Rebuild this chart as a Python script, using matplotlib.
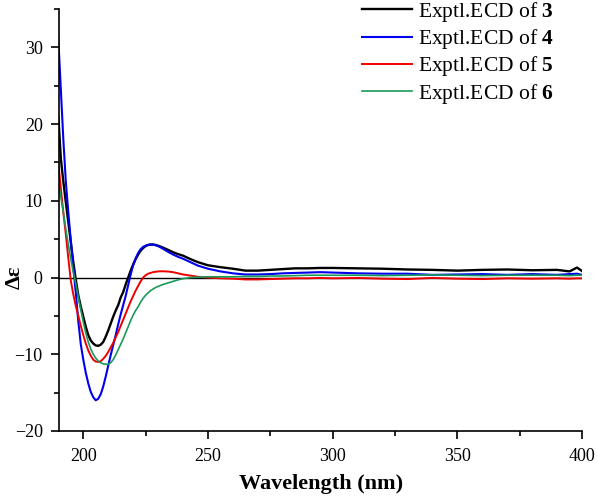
import matplotlib
matplotlib.use("Agg")
import matplotlib.pyplot as plt
from matplotlib.ticker import MultipleLocator

plt.rcParams['font.family'] = ['Liberation Serif', 'DejaVu Serif']
plt.rcParams['mathtext.fontset'] = 'custom'
plt.rcParams['mathtext.rm'] = 'Liberation Serif'
plt.rcParams['mathtext.bf'] = 'Liberation Serif:bold'

wavelength = [190, 191, 192, 193, 194, 195, 196, 197, 198, 199,
              200, 201, 202, 203, 204, 205, 206, 207, 208, 209,
              210, 211, 212, 213, 214, 215, 216, 217, 218, 219,
              220, 221, 222, 223, 224, 225, 226, 227, 228, 229,
              230, 232, 234, 236, 238, 240, 243, 246, 250, 255,
              260, 265, 270, 275, 280, 285, 290, 295, 300, 310,
              320, 330, 340, 350, 360, 370, 380, 390, 395, 398, 400]

ecd_3 = [21.0, 15.5, 12.5, 9.8, 7.2, 4.6, 2.0, -0.3, -2.3, -3.8,
         -5.1, -6.4, -7.5, -8.2, -8.6, -8.85, -8.9, -8.75, -8.4, -7.7,
         -6.9, -6.0, -5.1, -4.3, -3.6, -2.6, -1.9, -0.9, 0.0, 0.9,
         1.7, 2.4, 3.0, 3.5, 3.85, 4.1, 4.25, 4.3, 4.3, 4.25,
         4.15, 3.9, 3.6, 3.3, 3.05, 2.85, 2.4, 2.0, 1.6, 1.35,
         1.15, 0.9, 0.9, 1.0, 1.1, 1.2, 1.2, 1.25, 1.25, 1.2,
         1.15, 1.05, 1.0, 0.9, 1.0, 1.05, 0.95, 1.0, 0.8, 1.3, 0.85]

ecd_4 = [31.0, 24.5, 18.0, 12.5, 8.5, 4.8, 1.3, -2.0, -5.7, -8.7,
         -10.7, -12.4, -13.8, -14.9, -15.6, -16.0, -15.8, -15.2, -14.2, -12.9,
         -11.5, -10.1, -8.8, -7.5, -6.1, -4.8, -3.6, -2.4, -1.0, 0.4,
         1.6, 2.5, 3.2, 3.7, 4.0, 4.15, 4.25, 4.3, 4.3, 4.2,
         4.1, 3.75, 3.35, 3.0, 2.7, 2.45, 2.0, 1.55, 1.15, 0.8,
         0.55, 0.4, 0.4, 0.45, 0.55, 0.6, 0.65, 0.7, 0.65, 0.55,
         0.5, 0.5, 0.35, 0.4, 0.45, 0.35, 0.45, 0.35, 0.45, 0.5, 0.35]

ecd_5 = [15.0, 11.6, 8.5, 5.6, 2.5, -0.4, -2.2, -3.7, -5.0, -6.3,
         -7.5, -8.6, -9.5, -10.2, -10.7, -10.95, -11.0, -10.9, -10.6, -10.2,
         -9.7, -9.1, -8.5, -7.8, -7.1, -6.3, -5.5, -4.7, -3.9, -3.1,
         -2.4, -1.7, -1.1, -0.5, 0.0, 0.3, 0.5, 0.6, 0.7, 0.75,
         0.8, 0.82, 0.78, 0.7, 0.55, 0.4, 0.25, 0.1, 0.0, -0.1,
         -0.15, -0.25, -0.25, -0.2, -0.15, -0.1, -0.1, -0.05, -0.1, -0.05,
         -0.15, -0.2, -0.05, -0.15, -0.2, -0.1, -0.15, -0.1, -0.15, -0.1, -0.1]

ecd_6 = [12.5, 10.5, 8.5, 6.3, 4.3, 2.4, 0.7, -0.8, -2.5, -4.2,
         -5.8, -7.2, -8.4, -9.3, -10.0, -10.5, -10.9, -11.1, -11.25, -11.3,
         -11.3, -11.1, -10.7, -10.1, -9.4, -8.7, -8.0, -7.2, -6.4, -5.6,
         -4.9, -4.3, -3.8, -3.2, -2.7, -2.3, -2.0, -1.7, -1.5, -1.3,
         -1.15, -0.9, -0.7, -0.5, -0.3, -0.15, 0.0, 0.05, 0.1, 0.1,
         0.1, 0.15, 0.15, 0.2, 0.2, 0.25, 0.3, 0.3, 0.3, 0.3,
         0.25, 0.3, 0.35, 0.3, 0.25, 0.3, 0.3, 0.3, 0.25, 0.3, 0.3]

compounds = ['3', '4', '5', '6']
series = [ecd_3, ecd_4, ecd_5, ecd_6]
colors = ['#000000', '#0000ee', '#ee0000', '#1a9a5a']
widths = [1.7, 1.5, 1.4, 1.2]

for s in series:
    assert len(s) == len(wavelength)

fig = plt.figure(figsize=(5.97, 4.97), dpi=100)
ax = fig.add_axes([0.0994, 0.1328, 0.8755, 0.8491])

ax.axhline(0, color='black', lw=1.0, zorder=1)
for name, s, c, w in zip(compounds, series, colors, widths):
    ax.plot(wavelength, s, color=c, lw=w, label=r'Exptl.ECD of $\mathbf{' + name + '}$', zorder=2)

ax.set_xlim(190.4, 400)
ax.set_ylim(-20, 35)
ax.xaxis.set_major_locator(MultipleLocator(50))
ax.xaxis.set_minor_locator(MultipleLocator(25))
ax.yaxis.set_major_locator(MultipleLocator(10))
ax.yaxis.set_minor_locator(MultipleLocator(5))
ax.set_yticks([-20, -10, 0, 10, 20, 30])

for sp in ['top', 'right']:
    ax.spines[sp].set_visible(False)
for sp in ['left', 'bottom']:
    ax.spines[sp].set_linewidth(1.2)

ax.tick_params(which='major', direction='out', length=6, width=1.2, labelsize=13, pad=6)
ax.tick_params(which='minor', direction='out', length=3.5, width=1.2)

ax.set_xlabel('Wavelength (nm)', fontsize=16, fontweight='bold', labelpad=7)
ax.set_ylabel('Δε', fontsize=16, fontweight='bold')
ax.yaxis.set_label_coords(-0.066, 0.365)

leg = fig.legend(loc='upper left', bbox_to_anchor=(362 / 597, 1.0), frameon=False,
                 fontsize=15.5, handlelength=2.3, handletextpad=0.3, labelspacing=0.15,
                 borderpad=0, borderaxespad=0)

fig.savefig('out.png', dpi=100)
